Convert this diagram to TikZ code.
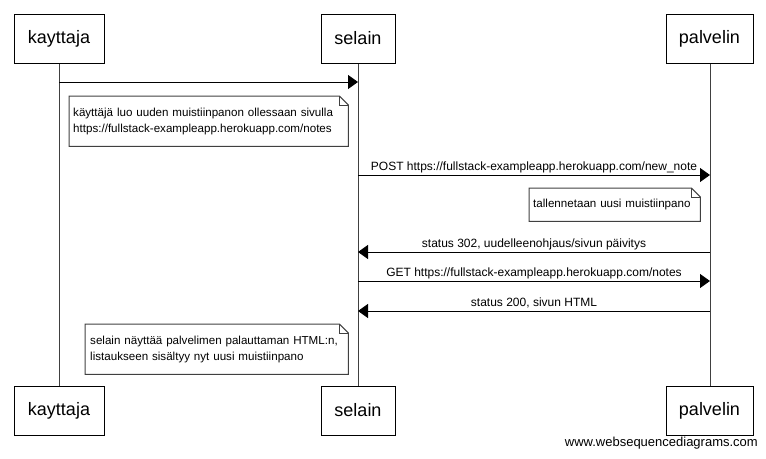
\documentclass[tikz,border=0pt]{standalone}
\usepackage{fontspec}
\setmainfont{Liberation Sans}
\usetikzlibrary{arrows.meta}

\tikzset{
  actor/.style={draw, line width=1pt, minimum height=49pt, inner sep=0pt,
    font=\fontsize{18}{20}\selectfont},
  lifeline/.style={draw=black!75, line width=1pt},
  msg/.style={line width=1pt, -{Triangle[length=10pt,width=14pt]}},
  lbl/.style={midway, above=0pt, inner sep=2pt, font=\fontsize{12}{14}\selectfont},
  note/.style={anchor=north west, inner xsep=4pt, inner ysep=0pt, align=left,
    font=\fontsize{11.6}{16}\selectfont},
}

% folded corner round a note node
\newcommand{\notefold}[1]{%
  \draw[black!75, line width=1pt] (#1.north west) -- ([xshift=-9pt]#1.north east)
    -- ([yshift=-9pt]#1.north east) -- (#1.south east) -- (#1.south west) -- cycle;
  \draw[black!75, line width=1pt] ([xshift=-9pt]#1.north east)
    -- ([xshift=-9pt,yshift=-9pt]#1.north east) -- ([yshift=-9pt]#1.north east);
}

\begin{document}
\begin{tikzpicture}[x=1pt, y=-1pt]
    \useasboundingbox (0,0) rectangle (766,458);

    % Draw the actors, top and bottom
    \node[actor, minimum width=90pt] (kaytop) at (59,38.5) {kayttaja};
    \node[actor, minimum width=74pt] (seltop) at (358,38.5) {selain};
    \node[actor, minimum width=87pt] (paltop) at (709.5,38.5) {palvelin};
    \node[actor, minimum width=90pt] (kaybot) at (59,410.5) {kayttaja};
    \node[actor, minimum width=74pt] (selbot) at (358,410.5) {selain};
    \node[actor, minimum width=87pt] (palbot) at (709.5,410.5) {palvelin};

    % Draw the lifelines
    \draw[lifeline] (kaytop) -- (kaybot);
    \draw[lifeline] (seltop) -- (selbot);
    \draw[lifeline] ([xshift=0.5pt]paltop.south) -- ([xshift=0.5pt]palbot.north);

    % Draw the messages
    \draw[msg] (kaytop |- 0,82) -- (seltop |- 0,82);
    \draw[msg] (seltop |- 0,175) -- (710,175)
        node[lbl] {POST https://fullstack-exampleapp.herokuapp.com/new\_note};
    \draw[msg] (710,252) -- (seltop |- 0,252)
        node[lbl] {status 302, uudelleenohjaus/sivun päivitys};
    \draw[msg] (seltop |- 0,281) -- (710,281)
        node[lbl] {GET https://fullstack-exampleapp.herokuapp.com/notes};
    \draw[msg] (710,311) -- (seltop |- 0,311)
        node[lbl] {status 200, sivun HTML};

    % Notes
    \node[note, minimum width=279pt, minimum height=50pt, text width=271pt] (note1) at (69,96)
        {\hbox{käyttäjä luo uuden muistiinpanon ollessaan sivulla}\\https://fullstack-exampleapp.herokuapp.com/notes};
    \notefold{note1}
    \node[note, minimum width=171pt, minimum height=33pt, text width=163pt] (note2) at (529,188)
        {tallennetaan uusi muistiinpano};
    \notefold{note2}
    \node[note, minimum width=263pt, minimum height=50pt, inner xsep=5pt, text width=253pt] (note3) at (85,324)
        {\hbox{selain näyttää palvelimen palauttaman HTML:n,}\\listaukseen sisältyy nyt uusi muistiinpano};
    \notefold{note3}

    % Footer
    \node[anchor=east, inner sep=0pt, font=\fontsize{13}{15}\selectfont] (footer) at (758,443)
        {www.websequencediagrams.com};
\end{tikzpicture}
\end{document}
